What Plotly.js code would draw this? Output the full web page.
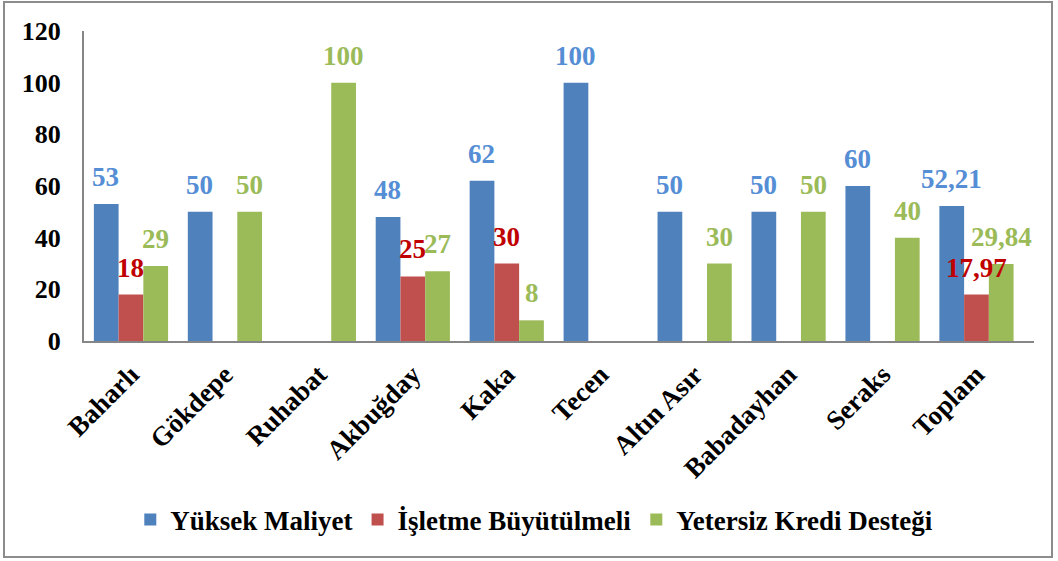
<!DOCTYPE html>
<html>
<head>
<meta charset="utf-8">
<script src="https://cdn.plot.ly/plotly-3.0.1.min.js"></script>
<style>html,body{margin:0;padding:0;background:#fff;}#chart{width:1058px;height:561px;}</style>
</head>
<body>
<div id="chart"></div>
<script>
const categories = ["Baharlı","Gökdepe","Ruhabat","Akbuğday","Kaka","Tecen","Altın Asır","Babadayhan","Seraks","Toplam"];
const seriesNames = ["Yüksek Maliyet","İşletme Büyütülmeli","Yetersiz Kredi Desteği"];
const yuksekMaliyet = [53, 50, 0, 48, 62, 100, 50, 50, 60, 52.21];
const isletmeBuyutulmeli = [18, 0, 0, 25, 30, 0, 0, 0, 0, 17.97];
const yetersizKredi = [29, 50, 100, 27, 8, 0, 30, 50, 40, 29.84];
const yTicks = [0, 20, 40, 60, 80, 100, 120];

const barColors = ["#4F81BD", "#C0504D", "#9BBB59"];
const labelColors = ["#558ED5", "#C00000", "#9BBB59"];
const FONT = "Liberation Serif";

const W = 1058, H = 561;
const M = {l: 84, r: 24, t: 31, b: 220};
const plotW = W - M.l - M.r, plotH = H - M.t - M.b;
const bargap = 0.21;
const catW = plotW / categories.length;
const barW = catW * (1 - bargap) / 3;

const allSeries = [yuksekMaliyet, isletmeBuyutulmeli, yetersizKredi];
const traces = allSeries.map((vals, i) => ({
  type: "bar",
  name: seriesNames[i],
  x: categories,
  y: vals,
  marker: {color: barColors[i], line: {width: 0}},
  hoverinfo: "skip"
}));

const annotations = [];
allSeries.forEach((vals, i) => {
  vals.forEach((v, j) => {
    if (!v) return;
    annotations.push({
      x: categories[j], y: v, xref: "x", yref: "y",
      text: "<b>" + String(v).replace(".", ",") + "</b>",
      showarrow: false, xanchor: "center", yanchor: "bottom",
      xshift: (i - 1) * barW, yshift: 10,
      font: {family: FONT, size: 27, color: labelColors[i]}
    });
  });
});

const px2x = p => (p - M.l) / plotW;
const px2y = p => (M.t + plotH - p) / plotH;

const layout = {
  width: W, height: H,
  margin: M,
  paper_bgcolor: "#fff", plot_bgcolor: "#fff",
  barmode: "group", bargap: bargap, bargroupgap: 0,
  font: {family: FONT, color: "#000"},
  xaxis: {
    type: "category", automargin: false,
    showline: true, linecolor: "#868686", linewidth: 2,
    showgrid: false, ticks: "", tickangle: -45,
    ticklabelstandoff: 5,
    tickfont: {family: FONT, size: 27, color: "#000", weight: "bold"}
  },
  yaxis: {
    range: [0, 120], automargin: false,
    tickvals: yTicks, ticktext: yTicks.map(String),
    showline: true, linecolor: "#868686", linewidth: 2,
    showgrid: false, zeroline: false, ticks: "",
    ticklabelstandoff: 16,
    tickfont: {family: FONT, size: 26, color: "#000", weight: "bold"}
  },
  legend: {
    orientation: "h", x: 0.474, xanchor: "center", y: px2y(520), yanchor: "middle",
    font: {family: FONT, size: 27, color: "#000", weight: "bold"},
    itemwidth: 30,
    itemclick: false, itemdoubleclick: false
  },
  annotations: annotations,
  shapes: [{
    type: "rect", xref: "paper", yref: "paper",
    x0: px2x(4), x1: px2x(1052), y0: px2y(557), y1: px2y(2),
    line: {color: "#8C8C8C", width: 2}, fillcolor: "rgba(0,0,0,0)", layer: "above"
  }],
  showlegend: true
};

Plotly.newPlot("chart", traces, layout, {displayModeBar: false, staticPlot: true});
</script>
</body>
</html>
